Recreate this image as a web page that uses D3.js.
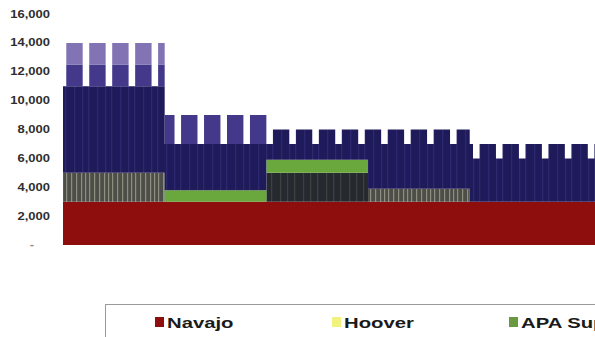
<!DOCTYPE html>
<html>
<head>
<meta charset="utf-8">
<script src="https://cdn.jsdelivr.net/npm/d3@7"></script>
<style>
  html, body { margin: 0; padding: 0; background: #fff; }
  svg { display: block; }
  text { font-family: "Liberation Sans", Arial, sans-serif; }
</style>
</head>
<body>
<svg id="chart" width="595" height="337"></svg>
<script>
// Daily resource stack, stored as runs of days with identical values.
// runStart = first day of each run (day 0 = first day shown).
const runStart = [
  0, 1, 6, 8, 13, 15, 20, 22, 27, 29,
  31, 34, 36, 41, 43, 48, 50, 55, 57,
  62, 64, 69, 71, 76, 78, 83, 85, 90, 92,
  93, 97, 99, 104, 106, 111, 113, 118, 120,
  124, 125, 127, 132, 134, 139, 141, 146, 148, 153,
  155, 160, 162, 167, 169, 174, 176, 181, 183
];
const lastDay = 186;

const navajo = [
  3000, 3000, 3000, 3000, 3000, 3000, 3000, 3000, 3000, 3000,
  3000, 3000, 3000, 3000, 3000, 3000, 3000, 3000, 3000,
  3000, 3000, 3000, 3000, 3000, 3000, 3000, 3000, 3000, 3000,
  3000, 3000, 3000, 3000, 3000, 3000, 3000, 3000, 3000,
  3000, 3000, 3000, 3000, 3000, 3000, 3000, 3000, 3000, 3000,
  3000, 3000, 3000, 3000, 3000, 3000, 3000, 3000, 3000
];
const hoover = [
  2000, 2000, 2000, 2000, 2000, 2000, 2000, 2000, 2000, 2000,
  0, 0, 0, 0, 0, 0, 0, 0, 0,
  0, 0, 0, 0, 0, 0, 0, 0, 0, 0,
  900, 900, 900, 900, 900, 900, 900, 900, 900,
  0, 0, 0, 0, 0, 0, 0, 0, 0, 0,
  0, 0, 0, 0, 0, 0, 0, 0, 0
];
const other = [
  0, 0, 0, 0, 0, 0, 0, 0, 0, 0,
  0, 0, 0, 0, 0, 0, 0, 0, 0,
  2000, 2000, 2000, 2000, 2000, 2000, 2000, 2000, 2000, 2000,
  0, 0, 0, 0, 0, 0, 0, 0, 0,
  0, 0, 0, 0, 0, 0, 0, 0, 0, 0,
  0, 0, 0, 0, 0, 0, 0, 0, 0
];
const apa = [
  0, 0, 0, 0, 0, 0, 0, 0, 0, 0,
  800, 800, 800, 800, 800, 800, 800, 800, 800,
  900, 900, 900, 900, 900, 900, 900, 900, 900, 900,
  0, 0, 0, 0, 0, 0, 0, 0, 0,
  0, 0, 0, 0, 0, 0, 0, 0, 0, 0,
  0, 0, 0, 0, 0, 0, 0, 0, 0
];
const base = [
  6000, 6000, 6000, 6000, 6000, 6000, 6000, 6000, 6000, 6000,
  3200, 3200, 3200, 3200, 3200, 3200, 3200, 3200, 3200,
  1100, 2100, 1100, 2100, 1100, 2100, 1100, 2100, 1100, 2100,
  4100, 3100, 4100, 3100, 4100, 3100, 4100, 3100, 4100,
  4000, 3000, 4000, 3000, 4000, 3000, 4000, 3000, 4000, 3000,
  4000, 3000, 4000, 3000, 4000, 3000, 4000, 3000, 4000
];
const peak = [
  0, 1500, 0, 1500, 0, 1500, 0, 1500, 0, 1500,
  2000, 0, 2000, 0, 2000, 0, 2000, 0, 2000,
  0, 0, 0, 0, 0, 0, 0, 0, 0, 0,
  0, 0, 0, 0, 0, 0, 0, 0, 0,
  0, 0, 0, 0, 0, 0, 0, 0, 0, 0,
  0, 0, 0, 0, 0, 0, 0, 0, 0
];
const peakHigh = [
  0, 1500, 0, 1500, 0, 1500, 0, 1500, 0, 1500,
  0, 0, 0, 0, 0, 0, 0, 0, 0,
  0, 0, 0, 0, 0, 0, 0, 0, 0, 0,
  0, 0, 0, 0, 0, 0, 0, 0, 0,
  0, 0, 0, 0, 0, 0, 0, 0, 0, 0,
  0, 0, 0, 0, 0, 0, 0, 0, 0
];

const yTicks = [0, 2000, 4000, 6000, 8000, 10000, 12000, 14000, 16000];
const legendNames = ["Navajo", "Hoover", "APA Supplemental"];

const keys = ["navajo", "hoover", "other", "apa", "base", "peak", "peakHigh"];
const cols = { navajo, hoover, other, apa, base, peak, peakHigh };

// one row per run, plus a closing row so the final step has a width
const rows = runStart.map((d, i) => {
  const r = { day: d };
  keys.forEach(k => r[k] = cols[k][i]);
  return r;
});
const closing = Object.assign({}, rows[rows.length - 1], { day: lastDay });
rows.push(closing);

const svg = d3.select("#chart");
const W = 595, H = 337;
const plot = { left: 63, top: 14, bottom: 245 };

const x = d3.scaleLinear().domain([0, lastDay]).range([plot.left, plot.left + lastDay * 3.28]);
const y = d3.scaleLinear().domain([0, 16000]).range([plot.bottom, plot.top]);

const defs = svg.append("defs");
defs.append("clipPath").attr("id", "plotClip")
  .append("rect").attr("x", plot.left).attr("y", 0).attr("width", W - plot.left).attr("height", plot.bottom + 1);

// fine vertical striping used for the lower mixed bands
function stripes(id, bg, line, xs) {
  const p = defs.append("pattern").attr("id", id)
    .attr("patternUnits", "userSpaceOnUse").attr("width", 23).attr("height", 10);
  p.append("rect").attr("width", 23).attr("height", 10).attr("fill", bg);
  xs.forEach(v => p.append("rect").attr("x", v).attr("width", 1.2).attr("height", 10).attr("fill", line));
}
stripes("hooverFill", "#4d4e47", "#8d8e80", [2, 7, 12, 16, 20]);
stripes("otherFill", "#262a2f", "#3c4240", [4, 11, 18]);
stripes("baseFill", "#1f1b5a", "#2e2870", [5, 13, 19]);

const fills = {
  navajo: "#8e0d0d",
  hoover: "url(#hooverFill)",
  other: "url(#otherFill)",
  apa: "#6aa83e",
  base: "url(#baseFill)",
  peak: "#43388a",
  peakHigh: "#8274b4"
};
const legendColors = ["#8e0d0d", "#f2f27e", "#6a9a40"];

const stack = d3.stack().keys(keys);
const layers = stack(rows);

const area = d3.area()
  .curve(d3.curveStepAfter)
  .x(d => x(d.data.day))
  .y0(d => y(d[0]))
  .y1(d => y(d[1]));

svg.append("g").attr("clip-path", "url(#plotClip)")
  .selectAll("path").data(layers).join("path")
  .attr("d", area)
  .attr("fill", d => fills[d.key]);

// y axis labels only (no axis line or gridlines)
const yAxis = svg.append("g");
yTicks.forEach(t => {
  const label = t === 0 ? "-" : d3.format(",")(t);
  yAxis.append("text")
    .attr("transform", t === 0
      ? `translate(32,${y(t) + 3}) scale(1.3,1)`
      : `translate(50,${y(t) + 3.5}) scale(1.3,1)`)
    .attr("text-anchor", t === 0 ? "middle" : "end")
    .attr("font-size", 10)
    .attr("font-weight", "bold")
    .attr("fill", t === 0 ? "#888" : "#2e2e2e")
    .text(label);
});

// legend box (runs off the right edge)
const legend = svg.append("g");
legend.append("rect")
  .attr("x", 105.5).attr("y", 304.5).attr("width", 700).attr("height", 60)
  .attr("fill", "#fff").attr("stroke", "#9a9a9a").attr("stroke-width", 1);

legendNames.forEach((name, i) => {
  const lx = 155 + i * 177;
  legend.append("rect")
    .attr("x", lx).attr("y", 317).attr("width", 9).attr("height", 10)
    .attr("fill", legendColors[i]);
  legend.append("text")
    .attr("transform", `translate(${lx + 12},328) scale(1.45,1)`)
    .attr("font-size", 14)
    .attr("font-weight", "bold")
    .attr("fill", "#1a1a1a")
    .text(name);
});
</script>
</body>
</html>
